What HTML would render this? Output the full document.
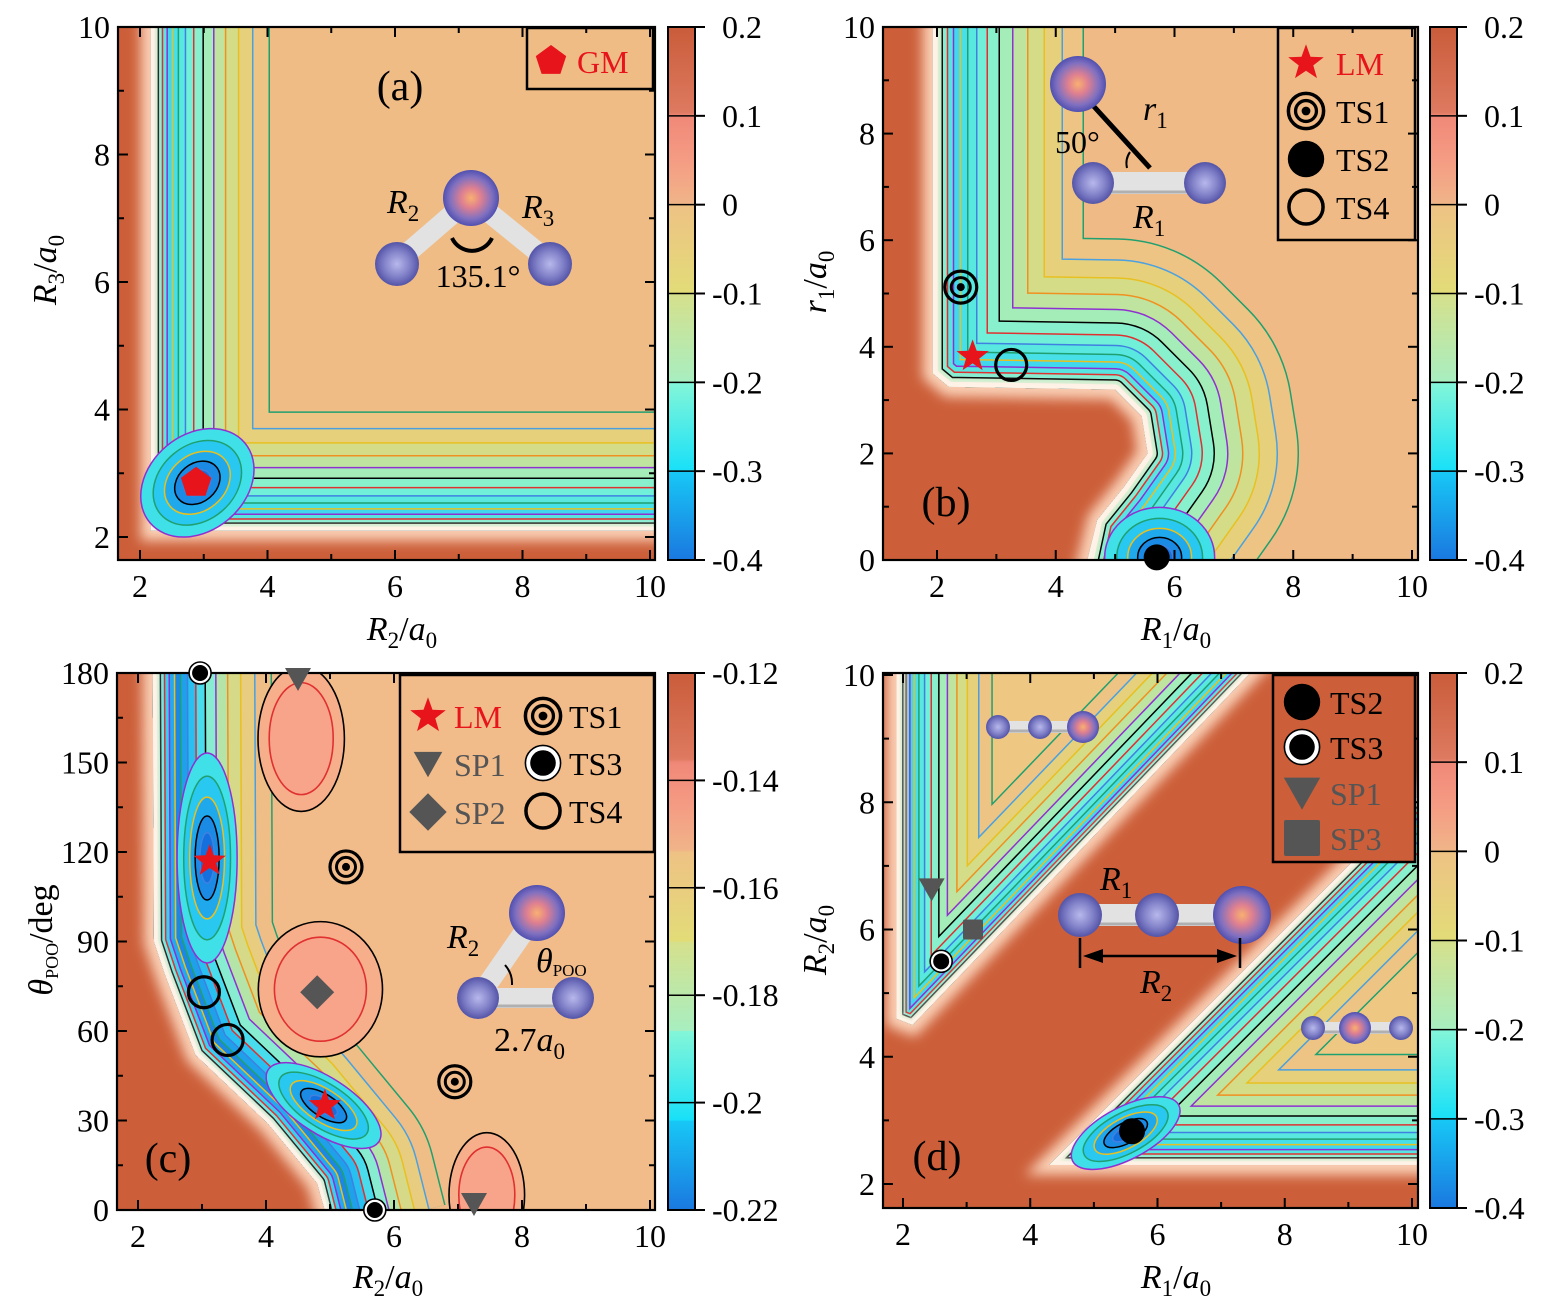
<!DOCTYPE html>
<html><head><meta charset="utf-8"><style>
html,body{margin:0;padding:0;background:#fff}
svg{display:block;font-family:"Liberation Serif",serif}
</style></head><body>
<svg id="fig" width="1545" height="1314" viewBox="0 0 1545 1314" xmlns="http://www.w3.org/2000/svg">
<defs>
<linearGradient id="cbar" x1="0" y1="0" x2="0" y2="1">
<stop offset="0" stop-color="#c95c3a"/><stop offset="0.16" stop-color="#de7a60"/>
<stop offset="0.167" stop-color="#f08878"/><stop offset="0.25" stop-color="#f59c84"/><stop offset="0.33" stop-color="#f0b488"/>
<stop offset="0.334" stop-color="#eec284"/><stop offset="0.5" stop-color="#e2dc78"/>
<stop offset="0.501" stop-color="#d6e08c"/><stop offset="0.666" stop-color="#a8eec0"/>
<stop offset="0.667" stop-color="#84f6d8"/><stop offset="0.833" stop-color="#18e0f8"/>
<stop offset="0.834" stop-color="#18c8f6"/><stop offset="1" stop-color="#1a78e0"/>
</linearGradient>
<radialGradient id="oxC" cx="0.5" cy="0.5" r="0.5"><stop offset="0" stop-color="#f8b070"/><stop offset="0.35" stop-color="#e08090"/><stop offset="0.75" stop-color="#8070c0"/><stop offset="1" stop-color="#5050b0"/></radialGradient>
<radialGradient id="oxS" cx="0.5" cy="0.5" r="0.5"><stop offset="0" stop-color="#b8b8ec"/><stop offset="0.6" stop-color="#8080c8"/><stop offset="1" stop-color="#5454a8"/></radialGradient>
<filter id="blur3" x="-20%" y="-20%" width="140%" height="140%"><feGaussianBlur stdDeviation="3"/></filter>
<filter id="blur6" x="-20%" y="-20%" width="140%" height="140%"><feGaussianBlur stdDeviation="6"/></filter>
</defs>

<text x="402" y="640" font-size="34" text-anchor="middle"><tspan font-style="italic">R</tspan><tspan font-size="23" dy="8">2</tspan><tspan dy="-8">/</tspan><tspan font-style="italic">a</tspan><tspan font-size="23" dy="8">0</tspan></text>
<text transform="translate(56,270) rotate(-90)" font-size="34" text-anchor="middle"><tspan font-style="italic">R</tspan><tspan font-size="23" dy="8">3</tspan><tspan dy="-8">/</tspan><tspan font-style="italic">a</tspan><tspan font-size="23" dy="8">0</tspan></text>
<text x="1176" y="640" font-size="34" text-anchor="middle"><tspan font-style="italic">R</tspan><tspan font-size="23" dy="8">1</tspan><tspan dy="-8">/</tspan><tspan font-style="italic">a</tspan><tspan font-size="23" dy="8">0</tspan></text>
<text transform="translate(826,282) rotate(-90)" font-size="34" text-anchor="middle"><tspan font-style="italic">r</tspan><tspan font-size="23" dy="8">1</tspan><tspan dy="-8">/</tspan><tspan font-style="italic">a</tspan><tspan font-size="23" dy="8">0</tspan></text>
<text x="388" y="1288" font-size="34" text-anchor="middle"><tspan font-style="italic">R</tspan><tspan font-size="23" dy="8">2</tspan><tspan dy="-8">/</tspan><tspan font-style="italic">a</tspan><tspan font-size="23" dy="8">0</tspan></text>
<text transform="translate(52,940) rotate(-90)" font-size="34" text-anchor="middle"><tspan font-style="italic">θ</tspan><tspan font-size="18" dy="6">POO</tspan><tspan dy="-6">/deg</tspan></text>
<text x="1176" y="1288" font-size="34" text-anchor="middle"><tspan font-style="italic">R</tspan><tspan font-size="23" dy="8">1</tspan><tspan dy="-8">/</tspan><tspan font-style="italic">a</tspan><tspan font-size="23" dy="8">0</tspan></text>
<text transform="translate(826,940) rotate(-90)" font-size="34" text-anchor="middle"><tspan font-style="italic">R</tspan><tspan font-size="23" dy="8">2</tspan><tspan dy="-8">/</tspan><tspan font-style="italic">a</tspan><tspan font-size="23" dy="8">0</tspan></text>
</svg>
<script>
// ---------------- data ----------------
const ticksA_X=[2,4,6,8,10], ticksA_Y=[2,4,6,8,10];
const ticksB_X=[2,4,6,8,10], ticksB_Y=[0,2,4,6,8,10];
const ticksC_X=[2,4,6,8,10], ticksC_Y=[0,30,60,90,120,150,180];
const ticksD_X=[2,4,6,8,10], ticksD_Y=[2,4,6,8,10];
const cbarA=["0.2","0.1","0","-0.1","-0.2","-0.3","-0.4"];
const cbarB=["0.2","0.1","0","-0.1","-0.2","-0.3","-0.4"];
const cbarC=["-0.12","-0.14","-0.16","-0.18","-0.2","-0.22"];
const cbarD=["0.2","0.1","0","-0.1","-0.2","-0.3","-0.4"];
const regionA=[[2.17,10.6],[2.17,2.1],[10.6,2.1],[10.6,10.6]];
const regionB=[[1.93,10.6],[1.93,3.5],[2.2,3.25],[5.0,3.2],[5.45,2.7],[5.55,2.0],[5.15,1.37],[4.7,0.75],[4.4,-0.6],[10.6,-0.6],[10.6,10.6]];
const regionC=[[2.23,186],[2.25,90],[2.42,79],[2.9,52],[4.03,29],[4.8,9],[5.0,-6],[10.6,-6],[10.6,186]];
const regionD1=[[1.9,10.6],[1.9,4.6],[2.15,4.5],[8.0,10.6]];
const regionD2=[[4.3,2.3],[10.6,8.6],[10.6,2.3]];
const valleyA=[[2.17,10.8],[2.17,2.1],[10.8,2.1]];
const valleyB=[[1.93,10.8],[1.93,3.5],[2.2,3.25],[5.0,3.2],[5.45,2.7],[5.55,2.0],[5.15,1.37],[4.7,0.75],[4.4,-0.8]];
const valleyC=[[2.23,190],[2.25,90],[2.42,79],[2.9,52],[4.03,29],[4.8,9],[5.0,-8]];
const valleyD1=[[1.9,10.8],[1.9,4.6],[2.15,4.5],[8.2,10.8]];
const valleyD2=[[10.8,8.8],[4.3,2.3],[10.8,2.3]];
const wellsA=[[2.9,2.85,62,48,-40]];
const wellsB=[[5.75,0.05,55,50,0]];
const wellsC=[[3.08,118,30,105,0],[4.9,35,66,28,33]];
const wellsD=[[5.5,2.8,60,26,-28]];
const hillsC=[[4.55,158,32,56],[4.85,74,46,52],[7.45,5,28,48]];
const markA_type=["pent"], markA_x=[2.88], markA_y=[2.85];
const markB_type=["star","ts1","ts2","ts4"], markB_x=[2.6,2.4,5.7,3.25], markB_y=[3.82,5.12,0.05,3.66];
const markC_type=["star","star","ts1","ts1","ts3","ts3","ts4","ts4","sp1","sp1","sp2"];
const markC_x=[3.12,4.92,5.25,6.95,2.97,5.7,3.03,3.4,4.5,7.25,4.8];
const markC_y=[117,35,115,43,180,0,73,57,178,2,73];
const markD_type=["ts2","ts3","sp1","sp3"], markD_x=[5.6,2.6,2.45,3.1], markD_y=[2.83,5.5,6.63,6.0];

// ---------------- helpers ----------------
const NS='http://www.w3.org/2000/svg';
const svg=document.getElementById('fig');
const defs=svg.querySelector('defs');
function mk(tag,attrs,parent){const e=document.createElementNS(NS,tag);for(const k in attrs)e.setAttribute(k,attrs[k]);(parent||svg).appendChild(e);return e;}
function lin(v0,p0,v1,p1){return v=>p0+(v-v0)*(p1-p0)/(v1-v0);}

const bandFrac=[1,.86,.74,.63,.53,.44,.36,.29,.23,.18,.135,.095,.06,.035];
const bandLine=['#20a070','#4aa0e0','#e8c020','#f09020','#9030d0','#000','#e03030','#4080e0','#20a070','#e8c020','#9030d0','#e03030','#000',null];

function panel(cfg){
  const X=cfg.X, Y=cfg.Y, id=cfg.id;
  const g=mk('g',{});
  
  
  const cp=mk('clipPath',{id:'box'+id},defs);
  mk('rect',{x:cfg.box[0],y:cfg.box[1],width:cfg.box[2]-cfg.box[0],height:cfg.box[3]-cfg.box[1]},cp);
  const inner=mk('g',{'clip-path':'url(#box'+id+')'},g);
  const bg=mk('rect',{x:cfg.box[0],y:cfg.box[1],width:cfg.box[2]-cfg.box[0],height:cfg.box[3]-cfg.box[1],fill:'#cc5f3a'},inner);
  
  
  const toPath=pts=>'M'+pts.map(p=>X(p[0]).toFixed(1)+','+Y(p[1]).toFixed(1)).join('L');
  cfg.regions.forEach((reg,ri)=>{
    const rp=toPath(reg)+'Z';
    const glow=mk('path',{d:rp,fill:'none',stroke:'#fbd2b8','stroke-width':20,filter:'url(#blur6)'},inner);
    
    
    const c=mk('clipPath',{id:'reg'+id+ri},defs);
    mk('path',{d:rp},c);
    const rg=mk('g',{'clip-path':'url(#reg'+id+ri+')'},inner);
    const base=mk('rect',{x:cfg.box[0],y:cfg.box[1],width:cfg.box[2]-cfg.box[0],height:cfg.box[3]-cfg.box[1],fill:cfg.base},rg);
    
    
    const vp=toPath(cfg.valleys[ri]);
    const H=cfg.H[ri];
    bandFrac.forEach((f,k)=>{
      const w=2*H*f;
      if(bandLine[k]){
        const ln=mk('path',{d:vp,fill:'none',stroke:bandLine[k],'stroke-width':w+2.4,'stroke-linejoin':'round'},rg);
        
        
      }
      const bf=mk('path',{d:vp,fill:'none',stroke:cfg.fills[k],'stroke-width':Math.max(w-0.6,0),'stroke-linejoin':'round'},rg);
      
      
    });
    const rim=mk('path',{d:rp,fill:'none',stroke:'#fff2e6','stroke-width':10,filter:'url(#blur3)'},rg);
    
    
    if(ri===0){
      (cfg.hills||[]).forEach(h=>{
        const cx=X(h[0]),cy=Y(h[1]);
        const o=mk('ellipse',{cx,cy,rx:h[2]*1.35,ry:h[3]*1.3,fill:'#f7ae8a',stroke:'#000','stroke-width':1.6},rg);
        
        
        const m=mk('ellipse',{cx,cy,rx:h[2],ry:h[3],fill:'#f8a48a',stroke:'#e03030','stroke-width':1.6},rg);
        
        
      });
    }
  });
  const wellFill=['#40e0e8','#28c8f0','#20a8ec','#1a8ae4','#1470dc'];
  const wellLine=['#9030d0','#20a070','#e8c020','#000','#4080e0'];
  cfg.wells.forEach(w=>{
    const cx=X(w[0]),cy=Y(w[1]);
    [1,.78,.58,.4,.24].forEach((s,k)=>{
      const e=mk('ellipse',{cx,cy,rx:w[2]*s,ry:w[3]*s,transform:`rotate(${w[4]} ${cx} ${cy})`,fill:wellFill[k],stroke:wellLine[k],'stroke-width':1.5},inner);
      
      
    });
  });
  return {g,inner,X,Y};
}

function ticks(cfg,xt,yt,xminor,yminor){
  const [x0,y0,x1,y1]=cfg.box;
  const g=mk('g',{stroke:'#000','stroke-width':2});
  
  
  xt.forEach(v=>{const x=cfg.X(v);mk('line',{x1:x,x2:x,y1:y1,y2:y1-10},g);mk('line',{x1:x,x2:x,y1:y0,y2:y0+10},g);});
  xminor.forEach(v=>{const x=cfg.X(v);mk('line',{x1:x,x2:x,y1:y1,y2:y1-6},g);mk('line',{x1:x,x2:x,y1:y0,y2:y0+6},g);});
  yt.forEach(v=>{const y=cfg.Y(v);mk('line',{x1:x0,x2:x0+10,y1:y,y2:y},g);mk('line',{x1:x1,x2:x1-10,y1:y,y2:y},g);});
  yminor.forEach(v=>{const y=cfg.Y(v);mk('line',{x1:x0,x2:x0+6,y1:y,y2:y},g);mk('line',{x1:x1,x2:x1-6,y1:y,y2:y},g);});
  xt.forEach(v=>{
    const t=mk('text',{x:cfg.X(v),y:y1+37,'font-size':32,'text-anchor':'middle'});
    t.textContent=v;
    
    
  });
  yt.forEach(v=>{
    const t=mk('text',{x:x0-8,y:cfg.Y(v)+11,'font-size':32,'text-anchor':'end'});
    t.textContent=v;
    
    
  });
  const fr=mk('rect',{x:x0,y:y0,width:x1-x0,height:y1-y0,fill:'none',stroke:'#000','stroke-width':2.2});
  
  
}

function colorbar(x,y0,y1,labels,id){
  const g=mk('g',{});
  
  
  mk('rect',{x:x,y:y0,width:27,height:y1-y0,fill:'url(#cbar)',stroke:'#000','stroke-width':2},g);
  const n=labels.length-1;
  labels.forEach((l,i)=>{
    const y=y0+(y1-y0)*i/n;
    mk('line',{x1:x,x2:x+27,y1:y,y2:y,stroke:'#000','stroke-width':1.5},g);
    mk('line',{x1:x+27,x2:x+37,y1:y,y2:y,stroke:'#000','stroke-width':2},g);
    const neg=l.charAt(0)==='-';
    const t=mk('text',{x:neg?x+44:x+54,y:y+11,'font-size':32,'text-anchor':'start'},g);
    t.textContent=l;
    
    
  });
}

function marker(type,cx,cy,s,parent){
  s=s||1;const p=parent||svg;
  const g=mk('g',{},p);
  if(type==='star'){
    let pts=[];for(let i=0;i<10;i++){const r=(i%2?7:17)*s,a=-Math.PI/2+i*Math.PI/5;pts.push((cx+r*Math.cos(a)).toFixed(1)+','+(cy+r*Math.sin(a)).toFixed(1));}
    mk('polygon',{points:pts.join(' '),fill:'#e8141c'},g);
  }else if(type==='pent'){
    let pts=[];for(let i=0;i<5;i++){const r=16*s,a=-Math.PI/2+i*2*Math.PI/5;pts.push((cx+r*Math.cos(a)).toFixed(1)+','+(cy+r*Math.sin(a)).toFixed(1));}
    mk('polygon',{points:pts.join(' '),fill:'#e8141c'},g);
  }else if(type==='ts1'){
    mk('circle',{cx,cy,r:16*s,fill:'none',stroke:'#000','stroke-width':3.2*s},g);
    mk('circle',{cx,cy,r:9.5*s,fill:'none',stroke:'#000','stroke-width':3*s},g);
    mk('circle',{cx,cy,r:4*s,fill:'#000'},g);
  }else if(type==='ts2'){
    mk('circle',{cx,cy,r:13*s,fill:'#000'},g);
  }else if(type==='ts3'){
    mk('circle',{cx,cy,r:11*s,fill:'#fff',stroke:'#000','stroke-width':1.6},g);
    mk('circle',{cx,cy,r:8*s,fill:'#000'},g);
  }else if(type==='ts4'){
    mk('circle',{cx,cy,r:15.5*s,fill:'none',stroke:'#000','stroke-width':3.2*s},g);
  }else if(type==='sp1'){
    mk('polygon',{points:`${cx-13*s},${cy-11*s} ${cx+13*s},${cy-11*s} ${cx},${cy+12*s}`,fill:'#555'},g);
  }else if(type==='sp2'){
    mk('polygon',{points:`${cx},${cy-17*s} ${cx+17*s},${cy} ${cx},${cy+17*s} ${cx-17*s},${cy}`,fill:'#555'},g);
  }else if(type==='sp3'){
    mk('rect',{x:cx-10*s,y:cy-10*s,width:20*s,height:20*s,rx:2,fill:'#555'},g);
  }
  return g;
}
function drawMarks(P,types,xs,ys,sz){
  types.forEach((t,i)=>{
    const m=marker(t,P.X(xs[i]),P.Y(ys[i]),sz);
    
    
  });
}
function label(x,y,txt,size,parent,color,anchor){
  const t=mk('text',{x,y,'font-size':size,fill:color||'#000','text-anchor':anchor||'start'},parent||svg);
  t.textContent=txt;
  return t;
}
function sphere(cx,cy,r,center){
  const c=mk('circle',{cx,cy,r,fill:center?'url(#oxC)':'url(#oxS)'});
  
  
}
function bond(x1,y1,x2,y2,w){
  const b=mk('line',{x1,y1,x2,y2,stroke:'#e2e2e2','stroke-width':w||18});
  
  
  if(y1===y2) mk('line',{x1,y1:y1+(w||18)/2-2,x2,y2:y2+(w||18)/2-2,stroke:'#b0b0b0','stroke-width':3});
}
function legendBox(x,y,w,h,id){
  const r=mk('rect',{x,y,width:w,height:h,fill:'none',stroke:'#000','stroke-width':2.5});
  
  
}

const fillsStd=['#eec484','#e6d07c','#d4dc88','#bfe4a0','#a4ecb8','#88f0cc','#70f0d8','#58e8e0','#48e0e8','#40d8ee','#58e4e0','#88ecd0','#c0ecc8','#fff0e4'];
const fillsC=['#efbe86','#e8cc80','#d6da88','#b4e4a8','#88ecd0','#48dcec','#28c0f0','#1ea0ea','#1c88e4','#24a8ee','#38d0f0','#70e8e0','#b8ecd0','#fff0e4'];

const PA={id:'a',box:[118,27,655,560],X:lin(2,140,10,650),Y:lin(2,537,10,27),base:'#f0bc86',
  regions:[regionA],valleys:[valleyA],H:[118],fills:fillsStd,wells:wellsA};
const pa=panel(PA);
drawMarks(pa,markA_type,markA_x,markA_y,1);
ticks(PA,ticksA_X,ticksA_Y,[3,5,7,9],[3,5,7,9]);
colorbar(668,27,560,cbarA,'a');

const PB={id:'b',box:[883,27,1418,560],X:lin(2,937,10,1412),Y:lin(0,560,10,27),base:'#f0ba86',
  regions:[regionB],valleys:[valleyB],H:[150],fills:fillsStd,wells:wellsB};
const pb=panel(PB);
ticks(PB,ticksB_X,ticksB_Y,[3,5,7,9],[1,3,5,7,9]);
colorbar(1430,27,560,cbarB,'b');

const PC={id:'c',box:[117,673,655,1210],X:lin(2,138,10,650),Y:lin(0,1210,180,673),base:'#f2bc8a',
  regions:[regionC],valleys:[valleyC],H:[118],fills:fillsC,wells:wellsC,hills:hillsC};
const pc=panel(PC);
ticks(PC,ticksC_X,ticksC_Y,[3,5,7,9],[15,45,75,105,135,165]);
colorbar(668,673,1210,cbarC,'c');

const PD={id:'d',box:[883,673,1418,1208],X:lin(2,903,10,1412),Y:lin(2,1184,10,675),base:'#eec882',
  regions:[regionD1,regionD2],valleys:[valleyD1,valleyD2],H:[95,110],fills:fillsStd,wells:wellsD};
const pd=panel(PD);
ticks(PD,ticksD_X,ticksD_Y,[3,5,7,9],[3,5,7,9]);
colorbar(1430,673,1208,cbarD,'d');

// ---------- insets ----------
bond(471,198,397,262,20);bond(471,198,550,262,20);
const arcA=mk('path',{d:'M452,238 A22,22 0 0 0 492,238',fill:'none',stroke:'#000','stroke-width':4});


sphere(471,198,28,true);sphere(397,264,22);sphere(550,264,22);
let t;
t=mk('text',{x:387,y:213,'font-size':34,'font-style':'italic'});t.innerHTML='R<tspan font-size="23" dy="8" font-style="normal">2</tspan>';


t=mk('text',{x:522,y:218,'font-size':34,'font-style':'italic'});t.innerHTML='R<tspan font-size="23" dy="8" font-style="normal">3</tspan>';


t=label(478,287,'135.1°',32,null,'#000','middle');


t=label(400,100,'(a)',42,null,'#000','middle');


legendBox(527,28,126,61,'a');
marker('pent',551,61,1);
t=label(577,73,'GM',32,null,'#e8141c');



drawMarks(pb,markB_type,markB_x,markB_y,1);
bond(1095,183,1205,183,22);
const rb=mk('line',{x1:1088,y1:100,x2:1150,y2:168,stroke:'#000','stroke-width':5});


mk('path',{d:'M1130,152 A20,20 0 0 0 1127,168',fill:'none',stroke:'#000','stroke-width':2});
sphere(1078,84,28,true);sphere(1093,183,21);sphere(1205,183,21);
t=mk('text',{x:1143,y:120,'font-size':34,'font-style':'italic'});t.innerHTML='r<tspan font-size="23" dy="8" font-style="normal">1</tspan>';


t=label(1055,153,'50°',32);


t=mk('text',{x:1133,y:228,'font-size':34,'font-style':'italic'});t.innerHTML='R<tspan font-size="23" dy="8" font-style="normal">1</tspan>';


t=label(946,516,'(b)',42,null,'#000','middle');


legendBox(1278,28,137,212,'b');
const legB=[['star','LM','#e8141c'],['ts1','TS1','#000'],['ts2','TS2','#000'],['ts4','TS4','#000']];
legB.forEach((e,i)=>{const y=63+i*48;marker(e[0],1306,y,e[0]==='ts2'?1.4:1.1);
  const tt=label(1336,y+12,e[1],32,null,e[2]);
  
  });

drawMarks(pc,markC_type,markC_x,markC_y,1);
bond(537,913,478,998,20);bond(478,998,573,998,20);
mk('path',{d:'M505,965 A28,28 0 0 1 512,985',fill:'none',stroke:'#000','stroke-width':2});
sphere(537,913,28,true);sphere(478,998,21);sphere(573,998,21);
t=mk('text',{x:447,y:948,'font-size':34,'font-style':'italic'});t.innerHTML='R<tspan font-size="23" dy="8" font-style="normal">2</tspan>';


t=mk('text',{x:536,y:972,'font-size':34,'font-style':'italic'});t.innerHTML='θ<tspan font-size="17" dy="4" font-style="normal">POO</tspan>';


t=mk('text',{x:494,y:1051,'font-size':34});t.innerHTML='2.7<tspan font-style="italic">a</tspan><tspan font-size="23" dy="8">0</tspan>';


t=label(168,1172,'(c)',42,null,'#000','middle');


mk('rect',{x:400,y:675,width:254,height:177,fill:'#f2bc8a'});
legendBox(400,675,254,177,'c');
const legC=[['star','LM','#e8141c',428,716],['sp1','SP1','#555',428,764],['sp2','SP2','#555',428,812],['ts1','TS1','#000',543,716],['ts3','TS3','#000',543,763],['ts4','TS4','#000',543,811]];
legC.forEach(e=>{marker(e[0],e[3],e[4],e[0]==='ts3'?1.6:1.1);
  const tt=label(e[3]+26,e[4]+12,e[1],32,null,e[2]);
  
  });

drawMarks(pd,markD_type,markD_x,markD_y,1);
bond(998,727,1083,727,12);sphere(998,727,12);sphere(1040,727,12);sphere(1083,727,16,true);
bond(1080,915,1242,915,22);sphere(1080,915,22);sphere(1157,915,22);sphere(1242,915,29,true);
const ar=mk('g',{stroke:'#000','stroke-width':2.5});


mk('line',{x1:1080,y1:938,x2:1080,y2:968},ar);mk('line',{x1:1240,y1:938,x2:1240,y2:968},ar);
mk('line',{x1:1088,y1:956,x2:1232,y2:956},ar);
mk('polygon',{points:'1083,956 1103,949 1103,963',fill:'#000',stroke:'none'},ar);
mk('polygon',{points:'1237,956 1217,949 1217,963',fill:'#000',stroke:'none'},ar);
t=mk('text',{x:1100,y:890,'font-size':34,'font-style':'italic'});t.innerHTML='R<tspan font-size="23" dy="8" font-style="normal">1</tspan>';


t=mk('text',{x:1140,y:993,'font-size':34,'font-style':'italic'});t.innerHTML='R<tspan font-size="23" dy="8" font-style="normal">2</tspan>';


bond(1313,1028,1401,1028,12);sphere(1313,1028,12);sphere(1355,1028,16,true);sphere(1401,1028,12);
t=label(937,1170,'(d)',42,null,'#000','middle');


mk('rect',{x:1273,y:675,width:142,height:187,fill:'#cc5f3a'});
legendBox(1273,675,142,187,'d');
const legD=[['ts2','TS2','#000',702,1.4],['ts3','TS3','#000',747,1.6],['sp1','SP1','#555',793,1.4],['sp3','SP3','#555',838,1.8]];
legD.forEach(e=>{marker(e[0],1302,e[3],e[4]);
  const tt=label(1330,e[3]+12,e[1],32,null,e[2]);
  
  });
</script>
</body></html>
